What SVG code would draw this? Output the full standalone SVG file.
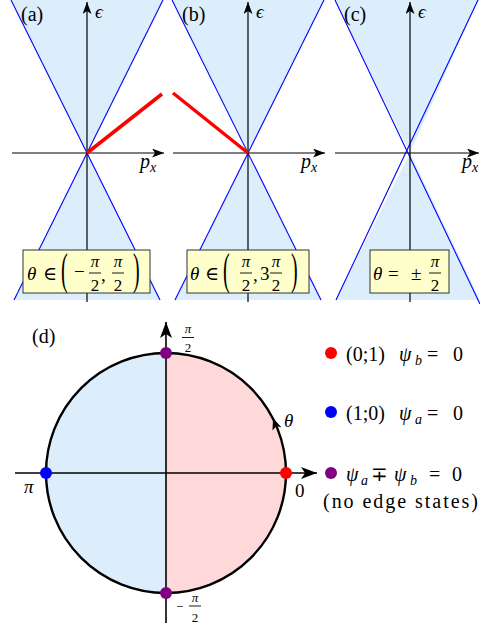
<svg xmlns="http://www.w3.org/2000/svg" width="480" height="631" viewBox="0 0 480 631">
<style>
.i{font-style:italic}
.cone{fill:#dcedfc;stroke:none}
.bl{stroke:#0000ff;stroke-width:1.1;fill:none}
.ax{stroke:#000;stroke-width:1.2;fill:none}
.axb{stroke:#000;stroke-width:1.6;fill:none}
.red{stroke:#ff0000;stroke-width:3.5;stroke-linecap:butt;fill:none}
.box{fill:#ffffcc;stroke:#333;stroke-width:1}
.bar{stroke:#000;stroke-width:0.9}
</style>
<defs>
<marker id="ar" viewBox="0 0 12 9" refX="12" refY="4.5" markerWidth="12" markerHeight="9" markerUnits="userSpaceOnUse" orient="auto">
<path d="M0,0 L12,4.5 L0,9 L3,4.5 z" fill="#000"/>
</marker>
<marker id="arb" viewBox="0 0 16 12" refX="16" refY="6" markerWidth="16" markerHeight="12" markerUnits="userSpaceOnUse" orient="auto">
<path d="M0,0 L16,6 L0,12 L4,6 z" fill="#000"/>
</marker>
</defs>
<g font-family="Liberation Serif, DejaVu Serif, serif" font-size="19" fill="#000">
<g id="panel-a">
<polygon class="cone" points="11,0 163,0 87,153"/>
<polygon class="cone" points="87,153 14,300 160,300"/>
<line class="bl" x1="11" y1="0" x2="160" y2="300"/>
<line class="bl" x1="163" y1="0" x2="14" y2="300"/>
<line class="ax" x1="87" y1="302" x2="87" y2="2" marker-end="url(#ar)"/>
<line class="ax" x1="12" y1="153" x2="164" y2="153" marker-end="url(#ar)"/>
<line class="red" x1="87" y1="153" x2="162" y2="94"/>
<text x="21" y="21" font-size="20">(a)</text>
<text class="i" x="95" y="18">ϵ</text>
<text class="i" x="140" y="168" font-size="20">p<tspan font-size="14" dy="4">x</tspan></text>
<rect class="box" x="23" y="250" width="127" height="43"/>
<text class="i" x="27" y="280">θ</text>
<text x="43" y="280">∈</text>
<text transform="translate(61,284) scale(1,2.2)" font-size="20">(</text>
<text x="74" y="278">−</text>
<text class="i" x="95" y="267" text-anchor="middle" font-size="17">π</text>
<line class="bar" x1="89" y1="273" x2="101" y2="273"/>
<text x="95" y="291" text-anchor="middle" font-size="17">2</text>
<text x="101" y="281">,</text>
<text class="i" x="118" y="267" text-anchor="middle" font-size="17">π</text>
<line class="bar" x1="112" y1="273" x2="124" y2="273"/>
<text x="118" y="291" text-anchor="middle" font-size="17">2</text>
<text transform="translate(133,284) scale(1,2.2)" font-size="20">)</text>
</g>

<g id="panel-b">
<polygon class="cone" points="172,0 324,0 248,153"/>
<polygon class="cone" points="248,153 175,300 321,300"/>
<line class="bl" x1="172" y1="0" x2="321" y2="300"/>
<line class="bl" x1="324" y1="0" x2="175" y2="300"/>
<line class="ax" x1="248" y1="302" x2="248" y2="2" marker-end="url(#ar)"/>
<line class="ax" x1="173" y1="153" x2="325" y2="153" marker-end="url(#ar)"/>
<line class="red" x1="173" y1="93" x2="248" y2="153"/>
<text x="182" y="21" font-size="20">(b)</text>
<text class="i" x="256" y="18">ϵ</text>
<text class="i" x="301" y="168" font-size="20">p<tspan font-size="14" dy="4">x</tspan></text>
<rect class="box" x="187" y="250" width="122" height="43"/>
<text class="i" x="190" y="280">θ</text>
<text x="205" y="280">∈</text>
<text transform="translate(223,284) scale(1,2.2)" font-size="20">(</text>
<text class="i" x="246" y="267" text-anchor="middle" font-size="17">π</text>
<line class="bar" x1="240" y1="273" x2="252" y2="273"/>
<text x="246" y="291" text-anchor="middle" font-size="17">2</text>
<text x="253" y="281">,</text>
<text x="260" y="280">3</text>
<text class="i" x="276" y="267" text-anchor="middle" font-size="17">π</text>
<line class="bar" x1="270" y1="273" x2="282" y2="273"/>
<text x="276" y="291" text-anchor="middle" font-size="17">2</text>
<text transform="translate(291,284) scale(1,2.2)" font-size="20">)</text>
</g>

<g id="panel-c">
<polygon class="cone" points="335,0 478,0 410,153"/>
<polygon class="cone" points="410,153 336,300 480,300"/>
<line class="bl" x1="335" y1="0" x2="480" y2="304"/>
<line class="bl" x1="478" y1="0" x2="336" y2="300"/>
<line class="ax" x1="410" y1="302" x2="410" y2="2" marker-end="url(#ar)"/>
<line class="ax" x1="335" y1="153" x2="479" y2="153" marker-end="url(#ar)"/>
<text x="344" y="21" font-size="20">(c)</text>
<text class="i" x="418" y="18">ϵ</text>
<text class="i" x="462" y="168" font-size="20">p<tspan font-size="14" dy="4">x</tspan></text>
<rect class="box" x="370" y="250" width="79" height="43"/>
<text class="i" x="373" y="280">θ</text>
<text x="388" y="280">=</text>
<text x="411" y="280">±</text>
<text class="i" x="435" y="267" text-anchor="middle" font-size="17">π</text>
<line class="bar" x1="429" y1="273" x2="441" y2="273"/>
<text x="435" y="291" text-anchor="middle" font-size="17">2</text>
</g>

<g id="panel-d">
<path d="M166,353 A120,120 0 0 0 166,593 z" fill="#dcedfc"/>
<path d="M166,353 A120,120 0 0 1 166,593 z" fill="#ffd9da"/>
<circle cx="166" cy="473" r="120" fill="none" stroke="#000" stroke-width="2.4"/>
<g id="connectors">
<line class="axb" x1="166" y1="623" x2="166" y2="322" marker-end="url(#arb)"/>
<line class="axb" x1="15" y1="473" x2="317" y2="473" marker-end="url(#arb)"/>
<path d="M273,418 L281.5,427.6 L276.4,426 L272.5,430.5 z" fill="#000"/>
</g>
<text x="32" y="343" font-size="20">(d)</text>
<text class="i" x="188" y="333" text-anchor="middle" font-size="13">π</text>
<line class="bar" x1="182" y1="337.5" x2="194" y2="337.5"/>
<text x="188" y="352" text-anchor="middle" font-size="13">2</text>
<text x="176" y="611" font-size="13">−</text>
<text class="i" x="195" y="602" text-anchor="middle" font-size="13">π</text>
<line class="bar" x1="189" y1="606" x2="201" y2="606"/>
<text x="195" y="622" text-anchor="middle" font-size="13">2</text>
<text class="i" x="24" y="493">π</text>
<text x="295" y="497">0</text>
<text class="i" x="284" y="427">θ</text>
<circle id="pt-top" cx="166" cy="353" r="6" fill="#800080"/>
<circle id="pt-bottom" cx="166" cy="593" r="6" fill="#800080"/>
<circle id="pt-left" cx="46" cy="473" r="6" fill="#0000ff"/>
<circle id="pt-right" cx="286" cy="473" r="6" fill="#ff0000"/>
</g>

<g id="legend-red">
<circle cx="331" cy="353" r="6" fill="#ff0000"/>
<text x="346" y="361" font-size="20" textLength="39" lengthAdjust="spacing">(0;1)</text>
<text class="i" x="399" y="361" font-size="20">ψ</text>
<text class="i" x="415" y="365" font-size="14">b</text>
<text x="427" y="361" font-size="20">=</text>
<text x="453" y="361" font-size="20">0</text>
</g>
<g id="legend-blue">
<circle cx="331" cy="412" r="6" fill="#0000ff"/>
<text x="346" y="420" font-size="20" textLength="39" lengthAdjust="spacing">(1;0)</text>
<text class="i" x="399" y="420" font-size="20">ψ</text>
<text class="i" x="415" y="424" font-size="14">a</text>
<text x="427" y="420" font-size="20">=</text>
<text x="453" y="420" font-size="20">0</text>
</g>
<g id="legend-purple">
<circle cx="331" cy="473" r="6" fill="#800080"/>
<text class="i" x="346" y="481" font-size="20">ψ</text>
<text class="i" x="361" y="485" font-size="14">a</text>
<text x="371" y="481" font-size="20">∓</text>
<text class="i" x="394" y="481" font-size="20">ψ</text>
<text class="i" x="410" y="485" font-size="14">b</text>
<text x="429" y="481" font-size="20">=</text>
<text x="452" y="481" font-size="20">0</text>
<text x="323" y="508" font-size="20" textLength="155" lengthAdjust="spacing">(no edge states)</text>
</g>
</g>
</svg>
